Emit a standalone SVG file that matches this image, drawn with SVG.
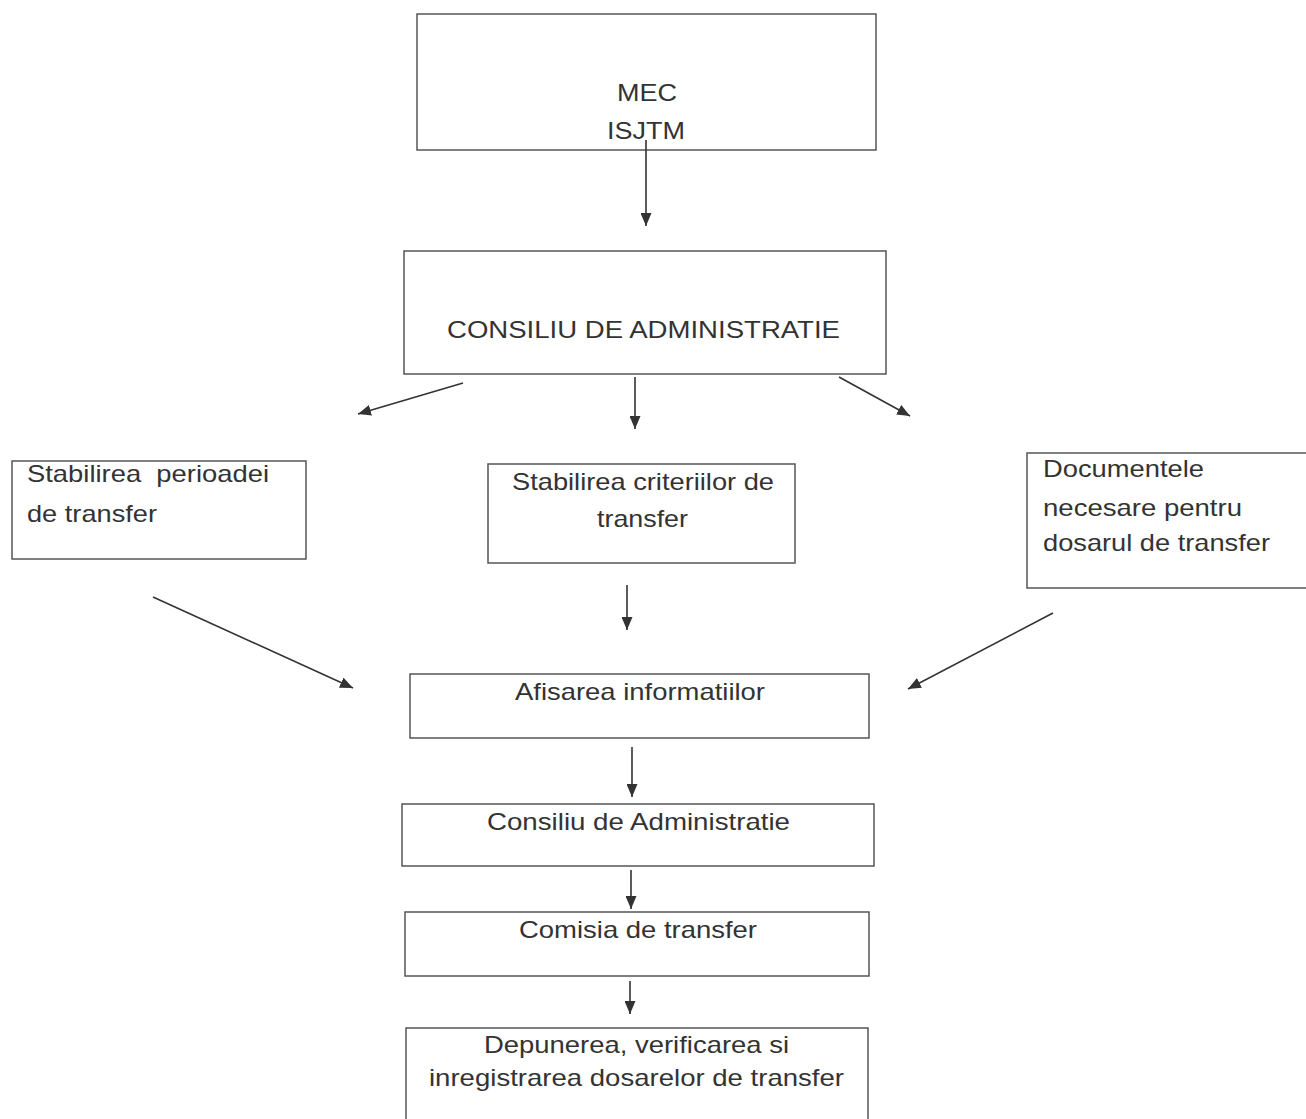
<svg xmlns="http://www.w3.org/2000/svg" width="1306" height="1119" viewBox="0 0 1306 1119">
<style>
.box{fill:none;stroke:#555;stroke-width:1.5}
.t{font-family:"Liberation Sans",Arial,sans-serif;font-size:24px;fill:#333}
.c{stroke:#333;stroke-width:1.6;fill:none;marker-end:url(#ah)}
</style>
<defs>
<marker id="ah" markerUnits="userSpaceOnUse" markerWidth="13" markerHeight="11" refX="13" refY="5.5" orient="auto">
<path d="M0,0 L13,5.5 L0,11 z" fill="#333"/>
</marker>
</defs>
<rect width="1306" height="1119" fill="#fff"/>
<g id="n-mec">
<rect class="box" x="417" y="14" width="459" height="136"/>
<text class="t" x="617" y="101" textLength="60" lengthAdjust="spacingAndGlyphs">MEC</text>
<text class="t" x="607" y="139" textLength="78" lengthAdjust="spacingAndGlyphs">ISJTM</text>
</g>
<g id="n-consiliu1">
<rect class="box" x="404" y="251" width="482" height="123"/>
<text class="t" x="447" y="338" textLength="393" lengthAdjust="spacingAndGlyphs">CONSILIU DE ADMINISTRATIE</text>
</g>
<g id="n-perioada">
<rect class="box" x="12" y="461" width="294" height="98"/>
<text class="t" x="27" y="482" textLength="242" lengthAdjust="spacingAndGlyphs" style="white-space:pre">Stabilirea  perioadei</text>
<text class="t" x="27" y="522" textLength="130" lengthAdjust="spacingAndGlyphs">de transfer</text>
</g>
<g id="n-criterii">
<rect class="box" x="488" y="464" width="307" height="99"/>
<text class="t" x="512" y="490" textLength="262" lengthAdjust="spacingAndGlyphs">Stabilirea criteriilor de</text>
<text class="t" x="597" y="527" textLength="91" lengthAdjust="spacingAndGlyphs">transfer</text>
</g>
<g id="n-documente">
<rect class="box" x="1027" y="453" width="285" height="135"/>
<text class="t" x="1043" y="477" textLength="161" lengthAdjust="spacingAndGlyphs">Documentele</text>
<text class="t" x="1043" y="516" textLength="199" lengthAdjust="spacingAndGlyphs">necesare pentru</text>
<text class="t" x="1043" y="551" textLength="227" lengthAdjust="spacingAndGlyphs">dosarul de transfer</text>
</g>
<g id="n-afisarea">
<rect class="box" x="410" y="674" width="459" height="64"/>
<text class="t" x="515" y="700" textLength="250" lengthAdjust="spacingAndGlyphs">Afisarea informatiilor</text>
</g>
<g id="n-consiliu2">
<rect class="box" x="402" y="804" width="472" height="62"/>
<text class="t" x="487" y="830" textLength="303" lengthAdjust="spacingAndGlyphs">Consiliu de Administratie</text>
</g>
<g id="n-comisia">
<rect class="box" x="405" y="912" width="464" height="64"/>
<text class="t" x="519" y="938" textLength="238" lengthAdjust="spacingAndGlyphs">Comisia de transfer</text>
</g>
<g id="n-depunerea">
<rect class="box" x="406" y="1028" width="462" height="100"/>
<text class="t" x="484" y="1053" textLength="305" lengthAdjust="spacingAndGlyphs">Depunerea, verificarea si</text>
<text class="t" x="429" y="1086" textLength="415" lengthAdjust="spacingAndGlyphs">inregistrarea dosarelor de transfer</text>
</g>
<g id="connectors">
<line class="c" x1="646" y1="140" x2="646" y2="226"/>
<line class="c" x1="463" y1="383" x2="358" y2="414"/>
<line class="c" x1="635" y1="377" x2="635" y2="429"/>
<line class="c" x1="839" y1="377" x2="910" y2="416"/>
<line class="c" x1="153" y1="597" x2="353" y2="688"/>
<line class="c" x1="627" y1="585" x2="627" y2="630"/>
<line class="c" x1="1053" y1="613" x2="908" y2="689"/>
<line class="c" x1="632" y1="747" x2="632" y2="797"/>
<line class="c" x1="631" y1="870" x2="631" y2="909"/>
<line class="c" x1="630" y1="981" x2="630" y2="1014"/>
</g>
</svg>
